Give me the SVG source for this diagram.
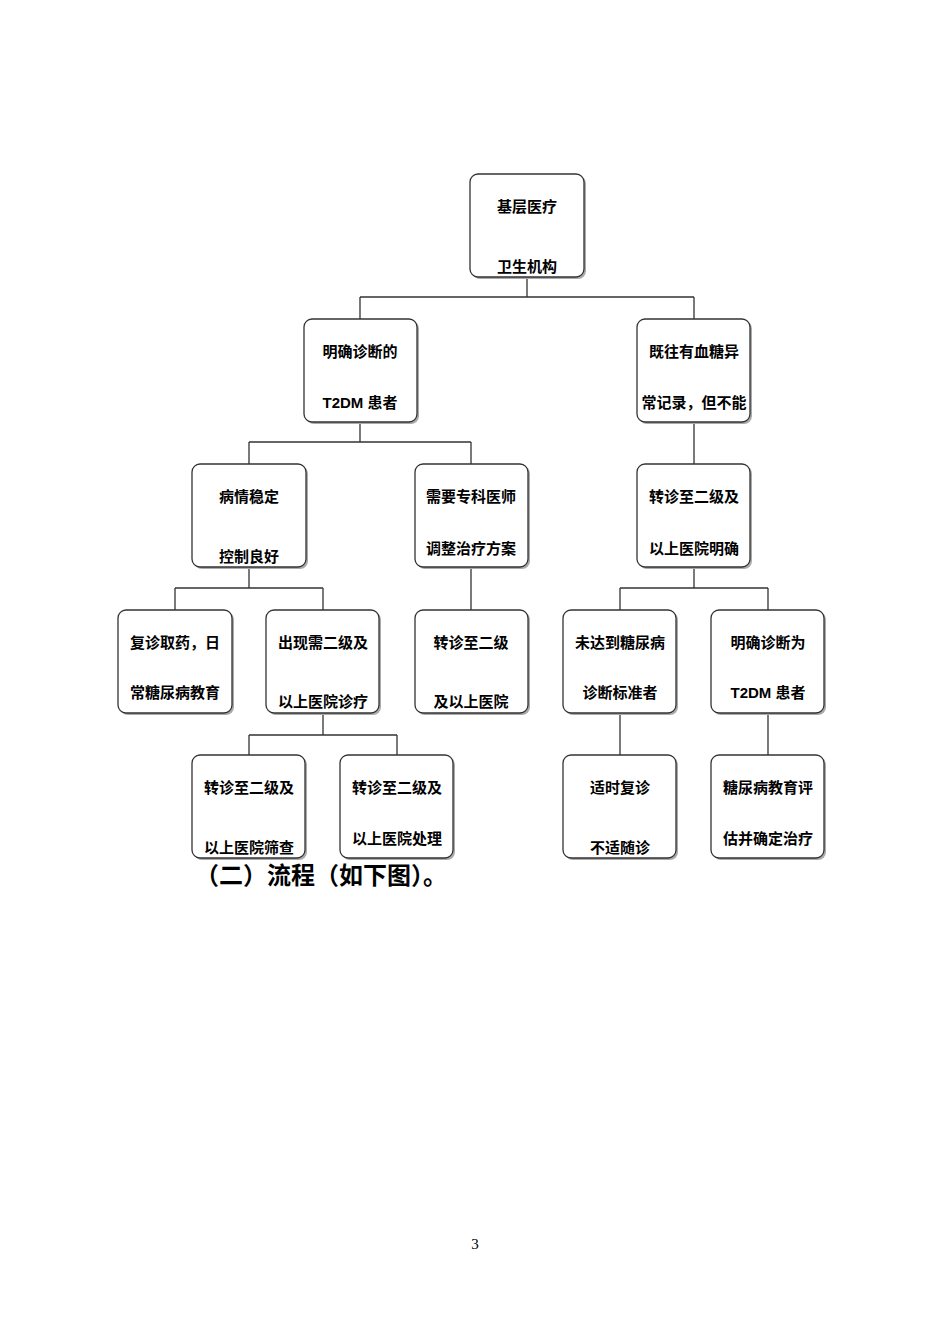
<svg xmlns="http://www.w3.org/2000/svg" width="950" height="1344" viewBox="0 0 950 1344">
<style>
.b{fill:#fff;stroke:#333;stroke-width:1.3}
.s{fill:#aaa}
.t{font-family:"Liberation Sans","Noto Sans CJK SC",sans-serif;font-size:15px;font-weight:bold;text-anchor:middle;fill:#000}
.c{fill:none;stroke:#333;stroke-width:1.3}
</style>
<rect width="950" height="1344" fill="#fff"/>
<g id="connectors">
<path class="c" d="M527 277V297M360 297H694M360 297V319M694 297V319"/>
<path class="c" d="M360 422V442M249 442H471M249 442V464M471 442V464M694 422V464"/>
<path class="c" d="M249 567V588M175 588H323M175 588V610M323 588V610M471 567V610M694 567V588M620 588H768M620 588V610M768 588V610"/>
<path class="c" d="M323 713V735M249 735H397M249 735V755M397 735V755M620 713V755M768 713V755"/>
</g>
<g id="n1"><rect class="s" x="472" y="176" width="114" height="103" rx="8"/><rect class="b" x="470" y="174" width="114" height="103" rx="8"/><text class="t" x="527" y="212">基层医疗</text><text class="t" x="527" y="272">卫生机构</text></g>
<g id="n2"><rect class="s" x="306" y="321" width="113" height="103" rx="8"/><rect class="b" x="304" y="319" width="113" height="103" rx="8"/><text class="t" x="360" y="357">明确诊断的</text><text class="t" x="360" y="408">T2DM 患者</text></g>
<g id="n3"><rect class="s" x="639" y="321" width="113" height="103" rx="8"/><rect class="b" x="637" y="319" width="113" height="103" rx="8"/><text class="t" x="694" y="357">既往有血糖异</text><text class="t" x="694" y="408">常记录，但不能</text></g>
<g id="n4"><rect class="s" x="194" y="466" width="114" height="103" rx="8"/><rect class="b" x="192" y="464" width="114" height="103" rx="8"/><text class="t" x="249" y="502">病情稳定</text><text class="t" x="249" y="562">控制良好</text></g>
<g id="n5"><rect class="s" x="417" y="466" width="113" height="103" rx="8"/><rect class="b" x="415" y="464" width="113" height="103" rx="8"/><text class="t" x="471" y="502">需要专科医师</text><text class="t" x="471" y="554">调整治疗方案</text></g>
<g id="n6"><rect class="s" x="639" y="466" width="113" height="103" rx="8"/><rect class="b" x="637" y="464" width="113" height="103" rx="8"/><text class="t" x="694" y="502">转诊至二级及</text><text class="t" x="694" y="554">以上医院明确</text></g>
<g id="n7"><rect class="s" x="120" y="612" width="114" height="103" rx="8"/><rect class="b" x="118" y="610" width="114" height="103" rx="8"/><text class="t" x="175" y="648">复诊取药，日</text><text class="t" x="175" y="698">常糖尿病教育</text></g>
<g id="n8"><rect class="s" x="268" y="612" width="113" height="103" rx="8"/><rect class="b" x="266" y="610" width="113" height="103" rx="8"/><text class="t" x="323" y="648">出现需二级及</text><text class="t" x="323" y="707">以上医院诊疗</text></g>
<g id="n9"><rect class="s" x="417" y="612" width="113" height="103" rx="8"/><rect class="b" x="415" y="610" width="113" height="103" rx="8"/><text class="t" x="471" y="648">转诊至二级</text><text class="t" x="471" y="707">及以上医院</text></g>
<g id="n10"><rect class="s" x="565" y="612" width="113" height="103" rx="8"/><rect class="b" x="563" y="610" width="113" height="103" rx="8"/><text class="t" x="620" y="648">未达到糖尿病</text><text class="t" x="620" y="698">诊断标准者</text></g>
<g id="n11"><rect class="s" x="713" y="612" width="113" height="103" rx="8"/><rect class="b" x="711" y="610" width="113" height="103" rx="8"/><text class="t" x="768" y="648">明确诊断为</text><text class="t" x="768" y="698">T2DM 患者</text></g>
<g id="n12"><rect class="s" x="194" y="757" width="113" height="103" rx="8"/><rect class="b" x="192" y="755" width="113" height="103" rx="8"/><text class="t" x="249" y="793">转诊至二级及</text><text class="t" x="249" y="853">以上医院筛查</text></g>
<g id="n13"><rect class="s" x="342" y="757" width="113" height="103" rx="8"/><rect class="b" x="340" y="755" width="113" height="103" rx="8"/><text class="t" x="397" y="793">转诊至二级及</text><text class="t" x="397" y="844">以上医院处理</text></g>
<g id="n14"><rect class="s" x="565" y="757" width="113" height="103" rx="8"/><rect class="b" x="563" y="755" width="113" height="103" rx="8"/><text class="t" x="620" y="793">适时复诊</text><text class="t" x="620" y="853">不适随诊</text></g>
<g id="n15"><rect class="s" x="713" y="757" width="113" height="103" rx="8"/><rect class="b" x="711" y="755" width="113" height="103" rx="8"/><text class="t" x="768" y="793">糖尿病教育评</text><text class="t" x="768" y="844">估并确定治疗</text></g>
<text x="195" y="884" font-family="Liberation Sans,Noto Sans CJK SC,sans-serif" font-size="24" font-weight="bold">（二）流程（如下图）。</text>
<text x="475" y="1249" font-family="Liberation Serif,serif" font-size="15" text-anchor="middle">3</text>
</svg>
